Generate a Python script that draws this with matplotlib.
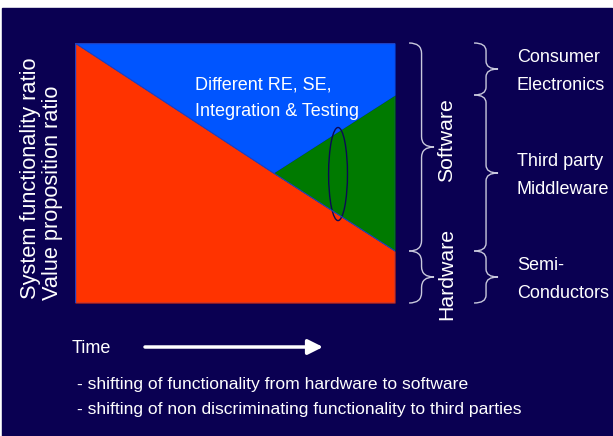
import matplotlib
matplotlib.use("Agg")
import matplotlib.pyplot as plt
from matplotlib.patches import Ellipse, PathPatch, Rectangle
from matplotlib.path import Path

# shares over time (0 = start, 1 = end), stacked bottom to top
time = [0.0, 0.62, 1.0]
hardware = [1.0, 0.5, 0.2]
middleware = [0.0, 0.0, 0.6]   # third-party share stacked on top of hardware

# groups on the right, taken from the end-of-time shares
layer_labels = ["Software", "Hardware"]
vendor_labels = [["Consumer", "Electronics"], ["Third party", "Middleware"], ["Semi-", "Conductors"]]
notes = ["- shifting of functionality from hardware to software",
         "- shifting of non discriminating functionality to third parties"]

BG = "#0a0052"
RED = "#ff3300"
BLUE = "#0055ff"
GREEN = "#007a00"
BRACE = "#c8c8dc"
FONT = "Liberation Sans"
TS = 12.6   # body text size

W, H = 613, 436
fig = plt.figure(figsize=(W / 100, H / 100), dpi=100, facecolor="white")

# navy slide background, pixel coordinates (y down)
bg = fig.add_axes([0, 0, 1, 1])
bg.set_xlim(0, W)
bg.set_ylim(H, 0)
bg.axis("off")
bg.add_patch(Rectangle((2, 8), W - 3, H - 8, color=BG))

# chart area in pixels: x 75..395, y 43..303
x0, y0, x1, y1 = 75, 43, 395, 303
ax = fig.add_axes([x0 / W, 1 - y1 / H, (x1 - x0) / W, (y1 - y0) / H])
ax.set_xlim(0, 1)
ax.set_ylim(0, 1)
ax.axis("off")

top = [h + m for h, m in zip(hardware, middleware)]
ax.fill_between(time, 0, hardware, color=RED, lw=0)
ax.fill_between(time, hardware, top, color=GREEN, lw=0)
ax.fill_between(time, top, 1, color=BLUE, lw=0)
ax.plot(time, hardware, color="#2040c0", lw=0.8)
ax.add_patch(Rectangle((0, 0), 1, 1, fill=False, ec="#2040c0", lw=1.0))
ax.add_patch(Ellipse((0.822, 0.496), 0.059, 0.358, fill=False, ec="#0a0a55", lw=1.0))

# overlay for all text, pixel coordinates
ov = fig.add_axes([0, 0, 1, 1])
ov.set_xlim(0, W)
ov.set_ylim(H, 0)
ov.axis("off")
ov.patch.set_alpha(0)


def label(x, y, s, size=TS, **kw):
    ov.text(x, y, s, color="white", family=FONT, fontsize=size,
            ha=kw.pop("ha", "left"), va=kw.pop("va", "baseline"), **kw)


label(195, 89, "Different RE, SE,", size=13)
label(195, 115.5, "Integration & Testing", size=13)


def brace(a, xl, xt, ya, yb, r=0.04):
    """Right-pointing curly brace from ya (top) to yb (bottom), data coords."""
    xm = xl + (xt - xl) * 0.5
    ym = (ya + yb) / 2
    verts = [(xl, ya), (xm, ya), (xm, ya - r),
             (xm, ym + r), (xm, ym), (xt, ym),
             (xm, ym), (xm, ym - r),
             (xm, yb + r), (xm, yb), (xl, yb)]
    codes = [Path.MOVETO, Path.CURVE3, Path.CURVE3,
             Path.LINETO, Path.CURVE3, Path.CURVE3,
             Path.CURVE3, Path.CURVE3,
             Path.LINETO, Path.CURVE3, Path.CURVE3]
    a.add_patch(PathPatch(Path(verts, codes), fill=False, ec=BRACE, lw=1.0, clip_on=False))


hw_end = hardware[-1]
mw_end = top[-1]

# software / hardware
brace(ax, 1.044, 1.122, 1.0, hw_end)
brace(ax, 1.044, 1.122, hw_end, 0.0)
label(447, 140, layer_labels[0], size=15.3, rotation=90, ha="center", va="center")
label(447, 274, layer_labels[1], size=15.3, rotation=90, ha="center", va="center")

# vendor groups, two text lines centred on each brace tip
spans = [(1.0, mw_end), (mw_end, hw_end), (hw_end, 0.0)]
for (ya, yb), lines in zip(spans, vendor_labels):
    brace(ax, 1.247, 1.322, ya, yb, r=0.03)
    mid_px = y1 - (ya + yb) / 2 * (y1 - y0)
    label(517, mid_px - 7, lines[0], size=13)
    label(517, mid_px + 20.5, lines[1], size=13)

# axis titles
label(31, 299, "System functionality ratio", size=15.7, rotation=90, ha="center", va="bottom")
label(53, 300, "Value proposition ratio", size=15.7, rotation=90, ha="center", va="bottom")

label(72, 353, "Time", size=13)
ov.annotate("", xy=(323, 347), xytext=(145, 347),
            arrowprops=dict(arrowstyle="-|>,head_length=0.9,head_width=0.45",
                            color="white", lw=2.5, shrinkA=0, shrinkB=0))

label(77, 388.5, notes[0])
label(77, 413.5, notes[1])

fig.savefig("out.png", dpi=100, facecolor="white")
